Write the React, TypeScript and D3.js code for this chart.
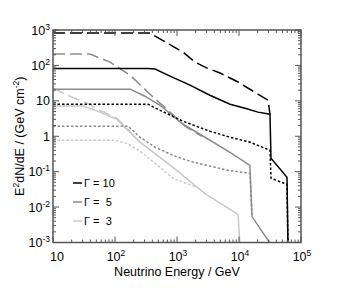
import React from 'react';
import * as d3 from 'd3';

// Neutrino spectra, [energy GeV, E^2 dN/dE]
const g10Dashed = [[10, 820], [367, 820], [1250, 238], [1950, 124], [3050, 84], [4940, 61], [7170, 44], [9640, 34], [29400, 10.4], [31600, 4.2]];
const g10Solid = [[10, 82], [340, 82], [442, 79], [771, 50], [1620, 27.7], [3400, 14.4], [7170, 8.0], [12500, 6.2], [20200, 4.8], [31600, 4.2], [32800, 0.24], [59400, 0.069], [61700, 0.0008]];
const g10Dotted = [[10, 8.0], [340, 8.0], [532, 5.4], [1250, 2.66], [3400, 1.38], [7170, 0.94], [15000, 0.68], [31600, 0.4], [32800, 0.065], [59400, 0.044], [61700, 0.0008]];

const g5Dashed = [[10, 209], [39.5, 209], [83, 124], [175, 53], [367, 15.4], [771, 4.8], [1346, 1.92], [2530, 1.0]];
const g5Solid = [[10, 21.4], [175, 21.4], [305, 13.5], [532, 7.5], [1250, 2.18], [2350, 1.14], [7170, 0.35], [15000, 0.15], [16200, 0.0054], [34000, 0.0008]];
const g5Dotted = [[10, 1.92], [162, 1.92], [253, 0.94], [442, 0.49], [862, 0.29], [1620, 0.196], [3050, 0.151], [6650, 0.109], [15000, 0.09], [16200, 0.0054]];

const g3Dashed = [[10, 22.8], [18.8, 13.5], [35.3, 8.6], [57.3, 5.4], [108, 3.2], [253, 0.68]];
const g3Solid = [[10, 7.1], [30.5, 7.1], [57.3, 4.8], [108, 3.0], [253, 0.68], [862, 0.132], [2830, 0.024], [9640, 0.0062], [10400, 0.0008]];
const g3Dotted = [[10, 0.77], [100, 0.77], [156, 0.63], [253, 0.38], [532, 0.132], [862, 0.065], [2100, 0.036]];

const xMajor = [10, 100, 1000, 10000, 100000];
const xExp = ['', '2', '3', '4', '5'];
const yMajor = [1000, 100, 10, 1, 0.1, 0.01, 0.001];
const yBase = ['10', '10', '10', '1', '10', '10', '10'];
const yExp = ['3', '2', '', '', '-1', '-2', '-3'];

const legendLabels = ['\u0393 = 10', '\u0393 =  5', '\u0393 =  3'];

const C10 = '#000000';
const C5 = '#8a8a8a';
const C3 = '#c8c8c8';
const DASH = '12,5';
const DOT = '2.5,2';

const curves = [
  { data: g3Dotted, color: C3, dash: DOT },
  { data: g3Dashed, color: C3, dash: DASH },
  { data: g3Solid, color: C3, dash: null },
  { data: g5Dotted, color: C5, dash: DOT },
  { data: g5Dashed, color: C5, dash: DASH },
  { data: g5Solid, color: C5, dash: null },
  { data: g10Dotted, color: C10, dash: DOT },
  { data: g10Dashed, color: C10, dash: DASH },
  { data: g10Solid, color: C10, dash: null },
];

const FONT = '"Liberation Sans", Arial, Helvetica, sans-serif';

export default function App() {
  const width = 354;
  const height = 288;
  const left = 53, right = 301, top = 30, bottom = 242.5;

  const x = d3.scaleLog().domain([10, 1e5]).range([left, right]);
  const y = d3.scaleLog().domain([1e-3, 1e3]).range([bottom, top]);

  const line = d3.line<number[]>()
    .x(d => x(d[0]))
    .y(d => y(d[1]));

  // minor ticks
  const xMinor: number[] = [];
  for (let p = 1; p < 5; p++) for (let k = 2; k < 10; k++) xMinor.push(k * Math.pow(10, p));
  const yMinor: number[] = [];
  for (let p = -3; p < 3; p++) for (let k = 2; k < 10; k++) yMinor.push(k * Math.pow(10, p));

  const axisColor = '#555';
  const majorLen = 6, minorLen = 3;

  return (
    <div style={{ position: 'absolute', left: 0, top: 0 }}>
      <svg width={width} height={height} style={{ display: 'block', background: '#fff' }}>
        <defs>
          <clipPath id="plotClip">
            <rect x={left} y={top} width={right - left} height={bottom - top} />
          </clipPath>
        </defs>

        {/* curves */}
        <g clipPath="url(#plotClip)">
          {curves.map((c, i) => (
            <path key={i} d={line(c.data as any) || ''} fill="none" stroke={c.color}
              strokeWidth={1.5} strokeDasharray={c.dash || undefined} />
          ))}
        </g>

        {/* ticks */}
        <g stroke={axisColor} strokeWidth={1}>
          {xMajor.map((v, i) => (
            <g key={'xm' + i}>
              <line x1={x(v)} x2={x(v)} y1={bottom} y2={bottom - majorLen} />
              <line x1={x(v)} x2={x(v)} y1={top} y2={top + majorLen} />
            </g>
          ))}
          {xMinor.map((v, i) => (
            <g key={'xn' + i}>
              <line x1={x(v)} x2={x(v)} y1={bottom} y2={bottom - minorLen} />
              <line x1={x(v)} x2={x(v)} y1={top} y2={top + minorLen} />
            </g>
          ))}
          {yMajor.map((v, i) => (
            <g key={'ym' + i}>
              <line x1={left} x2={left + majorLen} y1={y(v)} y2={y(v)} />
              <line x1={right} x2={right - majorLen} y1={y(v)} y2={y(v)} />
            </g>
          ))}
          {yMinor.map((v, i) => (
            <g key={'yn' + i}>
              <line x1={left} x2={left + minorLen} y1={y(v)} y2={y(v)} />
              <line x1={right} x2={right - minorLen} y1={y(v)} y2={y(v)} />
            </g>
          ))}
        </g>

        {/* frame */}
        <rect x={left} y={top} width={right - left} height={bottom - top}
          fill="none" stroke={axisColor} strokeWidth={1.5} />

        {/* x tick labels */}
        <g fontFamily={FONT} fontSize={12.5} fill="#000">
          {xMajor.map((v, i) => (
            <text key={'xl' + i} x={i === 0 ? x(v) + 4 : x(v) + (xExp[i] ? 1 : 0)} y={261} textAnchor="middle">
              <tspan>10</tspan>
              {xExp[i] && <tspan dy={-5} fontSize={8.5}>{xExp[i]}</tspan>}
            </text>
          ))}
        </g>

        {/* y tick labels */}
        <g fontFamily={FONT} fontSize={12.5} fill="#000">
          {yMajor.map((v, i) => (
            <text key={'yl' + i} x={50} y={y(v) + 4.5} textAnchor="end">
              <tspan>{yBase[i]}</tspan>
              {yExp[i] && <tspan dy={-5} fontSize={8.5}>{yExp[i]}</tspan>}
            </text>
          ))}
        </g>

        {/* axis titles */}
        <text x={(left + right) / 2} y={276} textAnchor="middle" fontFamily={FONT} fontSize={12.5}>
          Neutrino Energy / GeV
        </text>
        <text transform={`translate(24,${(top + bottom) / 2}) rotate(-90)`} textAnchor="middle"
          fontFamily={FONT} fontSize={12.5}>
          <tspan>E</tspan>
          <tspan dy={-5} fontSize={8.5}>2</tspan>
          <tspan dy={5}>dN/dE / (GeV cm</tspan>
          <tspan dy={-5} fontSize={8.5}>-2</tspan>
          <tspan dy={5}>)</tspan>
        </text>

        {/* legend */}
        <g fontFamily={FONT} fontSize={11}>
          {legendLabels.map((lab, i) => (
            <g key={'lg' + i} transform={`translate(0,${183 + i * 19})`}>
              <line x1={73} x2={82} y1={0} y2={0} stroke={[C10, C5, C3][i]} strokeWidth={1.5} />
              <text x={84} y={4} style={{ whiteSpace: 'pre' }}>{lab}</text>
            </g>
          ))}
        </g>
      </svg>
    </div>
  );
}
